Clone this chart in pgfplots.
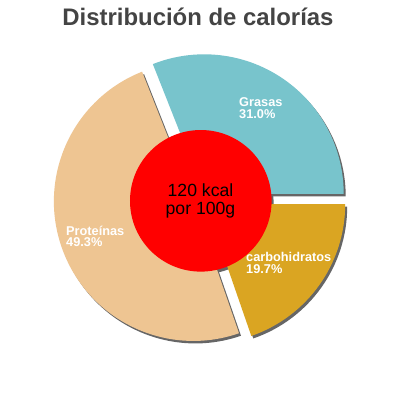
\documentclass[border=0pt]{standalone}
\usepackage{pgfplots}
\pgfplotsset{compat=1.18}
\usepackage{fontspec}
\setmainfont{Liberation Sans}

\definecolor{grasas}{RGB}{120,196,204}
\definecolor{carbs}{RGB}{218,165,34}
\definecolor{prot}{RGB}{238,197,146}
\definecolor{shadow}{RGB}{102,102,102}
\definecolor{titlegray}{RGB}{68,68,68}

\begin{document}
\begin{tikzpicture}
\begin{axis}[
    width=400bp, height=400bp, scale only axis,
    xmin=0, xmax=400, ymin=0, ymax=400,
    y dir=reverse, hide axis, clip=false,
]
    \fill[white] (axis cs:0,0) rectangle (axis cs:400,400);

    % shadows (31.0 %, 19.7 %, 49.3 % of 360 degrees, clockwise from 111.6)
    \begin{scope}[xshift=2bp, yshift=-2.5bp]
    \fill[shadow] (axis cs:204.2,193.8) -- ++(111.6:139.5bp)
        arc[start angle=111.6, delta angle={-3.6*31.0}, radius=139.5bp] -- cycle;
    \fill[shadow] (axis cs:205.7,204.1) -- ++(0:139.5bp)
        arc[start angle=0, delta angle={-3.6*19.7}, radius=139.5bp] -- cycle;
    \fill[shadow] (axis cs:193.4,201.4) -- ++(-70.92:139.5bp)
        arc[start angle=-70.92, delta angle={-3.6*49.3}, radius=139.5bp] -- cycle;
    \fill[shadow] (axis cs:200.8,200.8) circle[radius=70.8bp];
    \end{scope}

    % slices
    \fill[grasas] (axis cs:204.2,193.8) -- ++(111.6:139.5bp)
        arc[start angle=111.6, delta angle={-3.6*31.0}, radius=139.5bp] -- cycle;
    \fill[carbs] (axis cs:205.7,204.1) -- ++(0:139.5bp)
        arc[start angle=0, delta angle={-3.6*19.7}, radius=139.5bp] -- cycle;
    \fill[prot] (axis cs:193.4,201.4) -- ++(-70.92:139.5bp)
        arc[start angle=-70.92, delta angle={-3.6*49.3}, radius=139.5bp] -- cycle;

    % centre
    \fill[red] (axis cs:200.8,200.8) circle[radius=70.8bp];
    \node[anchor=base, font=\fontsize{17.7}{20}\selectfont] at (axis cs:200.5,196) {120 kcal};
    \node[anchor=base, font=\fontsize{17.7}{20}\selectfont] at (axis cs:200.5,214.3) {por 100g};

    % labels
    \begin{scope}[every node/.style={anchor=base west, inner sep=0pt, text=white,
        font=\bfseries\fontsize{12.8}{14}\selectfont}]
    \node at (axis cs:239,106.7) {Grasas};
    \node at (axis cs:239,118.2) {31.0\%};
    \node at (axis cs:246,261.7) {carbohidratos};
    \node at (axis cs:246,273.2) {19.7\%};
    \node at (axis cs:66,235) {Proteínas};
    \node at (axis cs:66,246.5) {49.3\%};
    \end{scope}

    % title
    \node[anchor=base, text=titlegray, font=\bfseries\fontsize{24}{28}\selectfont]
        at (axis cs:198,25) {Distribución de calorías};
\end{axis}
\end{tikzpicture}
\end{document}
